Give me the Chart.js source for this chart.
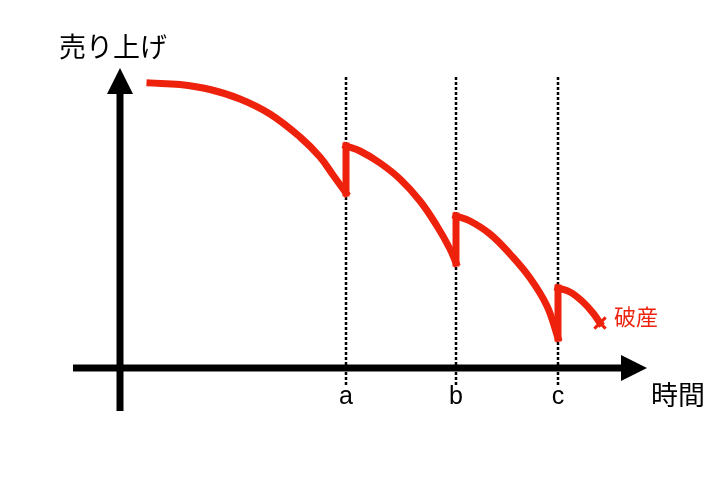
<!DOCTYPE html>
<html>
<head>
<meta charset="utf-8">
<script src="https://cdn.jsdelivr.net/npm/chart.js@4/dist/chart.umd.min.js"></script>
<style>
  html, body { margin: 0; padding: 0; background: #fff; }
  #chart { display: block; }
</style>
</head>
<body>
<canvas id="chart" width="720" height="480"></canvas>
<script>
// titles and the three events on the time axis
const yTitle = '売り上げ';
const xTitle = '時間';
const eventLabels = ['a', 'b', 'c'];
const eventTimes = [22.6, 33.6, 43.8];
const endLabel = '破産';

// sales curve, one piece per period
const time1 = [3.0, 6.0, 9.0, 12.0, 15.0, 18.0, 20.0, 21.3, 22.6];
const sales1 = [28.5, 28.35, 27.85, 26.9, 25.4, 23.1, 21.1, 19.3, 17.5];
const time2 = [22.6, 24.0, 26.0, 28.0, 30.0, 31.7, 33.0, 33.6];
const sales2 = [22.2, 21.7, 20.5, 18.9, 16.7, 14.2, 11.9, 10.5];
const time3 = [33.6, 35.0, 37.0, 39.0, 41.0, 42.7, 43.8];
const sales3 = [15.2, 14.7, 13.4, 11.4, 9.0, 6.2, 3.0];
const time4 = [43.8, 45.0, 46.3, 47.3, 48.0];
const sales4 = [8.0, 7.6, 6.6, 5.5, 4.5];

// axis extents, arrow tips and the dotted guides (data units)
const xAxisRange = [-4.7, 50.1];
const xArrowTip = 52.7;
const yAxisRange = [-4.3, 27.4];
const yArrowTip = 30.0;
const guideRange = [-1.7, 29.3];

const RED = '#ee220c';

function pts(ts, ss) {
  return ts.map((t, i) => ({ x: t, y: ss[i] }));
}

const times = [time1, time2, time3, time4];
const sales = [sales1, sales2, sales3, sales4];

const datasets = [];

// dotted guides at a, b, c
eventTimes.forEach(t => {
  datasets.push({
    data: [{ x: t, y: guideRange[0] }, { x: t, y: guideRange[1] }],
    borderColor: '#000',
    borderWidth: 2.5,
    borderDash: [3, 2],
    pointRadius: 0,
    order: 3
  });
});

// axes
datasets.push({
  data: [{ x: xAxisRange[0], y: 0 }, { x: xAxisRange[1], y: 0 }],
  borderColor: '#000', borderWidth: 7, pointRadius: 0, order: 2
});
datasets.push({
  data: [{ x: 0, y: yAxisRange[0] }, { x: 0, y: yAxisRange[1] }],
  borderColor: '#000', borderWidth: 7, pointRadius: 0, order: 2
});

// curve pieces
times.forEach((ts, k) => {
  const last = k === times.length - 1;
  datasets.push({
    data: pts(ts, sales[k]),
    borderColor: RED,
    borderWidth: 7,
    borderCapStyle: 'square',
    borderJoinStyle: 'round',
    tension: 0.4,
    pointStyle: 'crossRot',
    pointRadius: ctx => (last && ctx.dataIndex === ts.length - 1) ? 8 : 0,
    pointBorderColor: RED,
    pointBorderWidth: 3,
    order: 1
  });
});

// jumps up at each event
eventTimes.forEach((t, k) => {
  const from = sales[k][sales[k].length - 1];
  const to = sales[k + 1][0];
  datasets.push({
    data: [{ x: t, y: from }, { x: t, y: to }],
    borderColor: RED,
    borderWidth: 7,
    borderCapStyle: 'square',
    pointRadius: 0,
    order: 1
  });
});

// arrowheads and texts
const overlay = {
  id: 'overlay',
  afterDatasetsDraw(chart) {
    const { ctx, scales: { x, y } } = chart;
    const x0 = x.getPixelForValue(0);
    const y0 = y.getPixelForValue(0);
    ctx.save();
    ctx.fillStyle = '#000';

    const yBase = y.getPixelForValue(yAxisRange[1]);
    const yTip = y.getPixelForValue(yArrowTip);
    ctx.beginPath();
    ctx.moveTo(x0, yTip);
    ctx.lineTo(x0 - 13, yBase);
    ctx.lineTo(x0 + 13, yBase);
    ctx.closePath();
    ctx.fill();

    const xBase = x.getPixelForValue(xAxisRange[1]);
    const xTip = x.getPixelForValue(xArrowTip);
    ctx.beginPath();
    ctx.moveTo(xTip, y0);
    ctx.lineTo(xBase, y0 - 13);
    ctx.lineTo(xBase, y0 + 13);
    ctx.closePath();
    ctx.fill();

    ctx.textBaseline = 'middle';
    ctx.font = '27px "Noto Sans CJK JP", sans-serif';
    ctx.textAlign = 'center';
    ctx.fillText(yTitle, x0 - 7, yTip - 21);

    ctx.font = '27px "Noto Sans CJK JP", sans-serif';
    ctx.textAlign = 'left';
    ctx.fillText(xTitle, xTip + 4, y0 + 27);

    ctx.font = '25px "Liberation Sans", Arial, sans-serif';
    ctx.textAlign = 'center';
    eventLabels.forEach((lab, i) => {
      ctx.fillText(lab, x.getPixelForValue(eventTimes[i]), y0 + 29);
    });

    const endX = x.getPixelForValue(time4[time4.length - 1]);
    const endY = y.getPixelForValue(sales4[sales4.length - 1]);
    ctx.fillStyle = RED;
    ctx.font = '22px "Noto Sans CJK JP", sans-serif';
    ctx.textAlign = 'left';
    ctx.fillText(endLabel, endX + 14, endY - 6);
    ctx.restore();
  }
};

new Chart(document.getElementById('chart'), {
  type: 'line',
  data: { datasets },
  options: {
    responsive: false,
    animation: false,
    layout: { padding: 12 },
    plugins: { legend: { display: false }, tooltip: { enabled: false } },
    scales: {
      x: { type: 'linear', display: false, min: -10.8, max: 58.8 },
      y: { type: 'linear', display: false, min: -10.0, max: 35.6 }
    }
  },
  plugins: [overlay]
});
</script>
</body>
</html>
